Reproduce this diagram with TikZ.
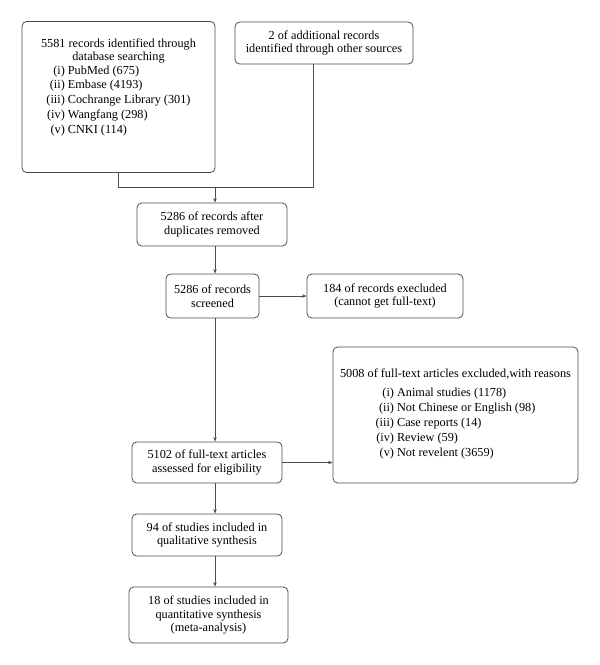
\documentclass[tikz,border=0pt]{standalone}
\usepackage{fontspec}
\setmainfont{Liberation Serif}
\usetikzlibrary{arrows.meta}
\begin{document}
\begin{tikzpicture}[x=0.75pt,y=-0.75pt,
  box/.style={draw=black!70, line width=0.6pt, rounded corners=3.5pt, align=center,
    inner sep=0pt, font=\fontsize{9.2}{10.4}\selectfont},
  conn/.style={draw=black!70, line width=0.6pt},
  arr/.style={conn, -{Stealth[length=3.5pt,width=2.6pt]}}]
\useasboundingbox (0,0) rectangle (600,665);
\node[box, minimum width=144.75pt, minimum height=113.25pt] (db) at (118.5,97)
  {\fontsize{9.2}{11.2}\selectfont 5581 records identified through\\database searching\\[-1pt]
   \renewcommand{\arraystretch}{1.0}%
   \fontsize{9.2}{11.2}\selectfont
   \begin{tabular}{@{}r@{ }l@{}}
   (i) & PubMed (675)\\
   (ii) & Embase (4193)\\
   (iii) & Cochrange Library (301)\\
   (iv) & Wangfang (298)\\
   (v) & CNKI (114)
   \end{tabular}\\[12pt]};
\node[box, minimum width=133.5pt, minimum height=31.5pt] (other) at (324,43)
  {2 of additional records\\identified through other sources};
\node[box, minimum width=112.5pt, minimum height=32.25pt] (dup) at (212,224.5)
  {5286 of records after\\duplicates removed};
\node[box, minimum width=69.75pt, minimum height=33pt] (scr) at (212.5,296)
  {5286 of records\\screened};
\node[box, minimum width=117pt, minimum height=33pt] (exc1) at (385,296)
  {184 of records execluded\\(cannot get full-text)};
\node[box, minimum width=183.75pt, minimum height=102pt] (exc2) at (455.5,415)
  {5008 of full-text articles excluded,with reasons\\[4pt]
   \fontsize{9.2}{11.2}\selectfont
   \begin{tabular}{@{}r@{ }l@{}}
   (i) & Animal studies (1178)\\
   (ii) & Not Chinese or English (98)\\
   (iii) & Case reports (14)\\
   (iv) & Review (59)\\
   (v) & Not revelent (3659)
   \end{tabular}};
\node[box, minimum width=112.5pt, minimum height=30.75pt] (elig) at (207,462.5)
  {5102 of full-text articles\\assessed for eligibility};
\node[box, minimum width=112.5pt, minimum height=31.5pt] (qual) at (207,535)
  {94 of studies included in\\qualitative synthesis};
\node[box, minimum width=119.25pt, minimum height=42pt] (quant) at (208.5,615)
  {18 of studies included in\\quantitative synthesis\\(meta-analysis)};
\coordinate (j) at (215,187);
\coordinate (jr) at (313,187);
\coordinate (jl) at (118.5,187);
\draw[conn] (db.south) -- (jl) -- (jr) -- (jr |- other.south);
\draw[arr] (j) -- (j |- dup.north);
\draw[arr] (j |- dup.south) -- (j |- scr.north);
\draw[arr] (scr.east) -- (exc1.west);
\draw[arr] (j |- scr.south) -- (j |- elig.north);
\draw[arr] (elig.east) -- (elig.east -| exc2.west);
\draw[arr] (j |- elig.south) -- (j |- qual.north);
\draw[arr] (j |- qual.south) -- (j |- quant.north);
\end{tikzpicture}
\end{document}
